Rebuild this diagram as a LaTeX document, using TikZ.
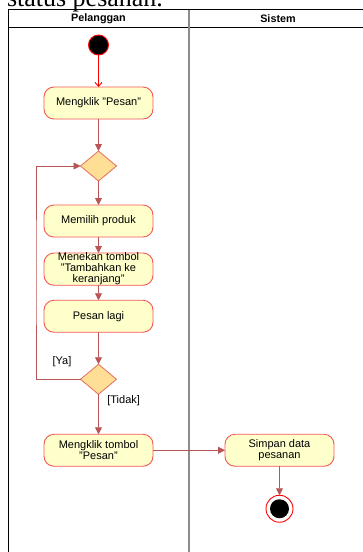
\documentclass[tikz,border=0pt]{standalone}
\usepackage{fontspec}
\setmainfont{Liberation Sans}
\newfontfamily\serifface{Liberation Serif}
\usetikzlibrary{positioning,shapes.geometric,arrows.meta}
\definecolor{actfill}{RGB}{255,255,204}
\definecolor{actline}{RGB}{245,85,85}
\definecolor{decfill}{RGB}{255,222,150}
\definecolor{decline}{RGB}{228,120,100}
\definecolor{flowline}{RGB}{185,85,85}
\definecolor{laneline}{RGB}{140,140,140}

\begin{document}
\begin{tikzpicture}[x=1pt,y=-1pt,line width=0.9pt,
		  every node/.style={font=\fontsize{11}{11}\selectfont,outer sep=0pt},
		  actnode/.style={draw=actline,fill=actfill,rounded corners=10pt,minimum width=109pt,minimum height=32pt,align=center,inner sep=0pt},
		  decnode/.style={diamond,draw=decline,fill=decfill,minimum width=36pt,minimum height=30pt,inner sep=0pt},
		  startnode/.style={circle,draw=red,fill=black,minimum size=20pt,inner sep=0pt},
		  endnode/.style={circle,draw=red,fill=white,minimum size=27pt,inner sep=0pt,
		    path picture={\fill[black] (path picture bounding box.center) circle (9.5pt);}},
		  flow/.style={draw=flowline,-{Triangle[length=7pt,width=7pt]}},
		  lanehead/.style={font=\bfseries\fontsize{10.8}{11}\selectfont}
		]

			\useasboundingbox (0,0) rectangle (363,552);
			\clip (0,0) rectangle (363,552);

			% the text line cut off above
			\node[anchor=base west,inner sep=0pt,font=\serifface\fontsize{26}{26}\selectfont] (caption) at (7,6.5) {status pesanan.};

			% the swimlanes
			\draw (8.5,560) -- (8.5,9.5) -- (370,9.5);
			\draw (8.5,27) -- (370,27);
			\draw[laneline,line width=2pt] (189,9.5) -- (189,560);
			\node[lanehead] (lane1) at (98.5,18.5) {Pelanggan};
			\node[lanehead] (lane2) at (278,18.5) {Sistem};

			% the activities of Pelanggan
			\node[startnode] (start) at (98.5,45) {};
			\node[actnode,below=32pt of start] (klik) {Mengklik "Pesan"};
			\node[decnode,below=32pt of klik] (dec1) {};
			\node[actnode,below=24pt of dec1] (pilih) {Memilih produk};
			\node[actnode,below=16pt of pilih] (tambah) {Menekan tombol\\"Tambahkan ke\\keranjang"};
			\node[actnode,below=15pt of tambah] (lagi) {Pesan lagi};
			\node[decnode,below=32pt of lagi] (dec2) {};
			\node[actnode,below=40pt of dec2] (pesan) {Mengklik tombol\\"Pesan"};

			% the activities of Sistem
			\node[actnode,right=72pt of pesan] (simpan) {Simpan data\\pesanan};
			\node[endnode,below=29pt of simpan] (end) {};

			% the guards
			\node (ya) at (62,362) {[Ya]};
			\node[anchor=west] (tidak) at (104,401) {[Tidak]};
			\coordinate (loop) at (36,272);

			% the flows
			\draw[red,-{Straight Barb[length=4pt,width=7pt]}] (start) -- (klik);
			\draw[flow] (klik) -- (dec1);
			\draw[flow] (dec1) -- (pilih);
			\draw[flow] (pilih) -- (tambah);
			\draw[flow] (tambah) -- (lagi);
			\draw[flow] (lagi) -- (dec2);
			\draw[flow] (dec2.west) -| (loop) |- (dec1.west);
			\draw[flow] (dec2) -- (pesan);
			\draw[flow] (pesan) -- (simpan);
			\draw[flow] (simpan) -- (end);

\end{tikzpicture}
\end{document}
